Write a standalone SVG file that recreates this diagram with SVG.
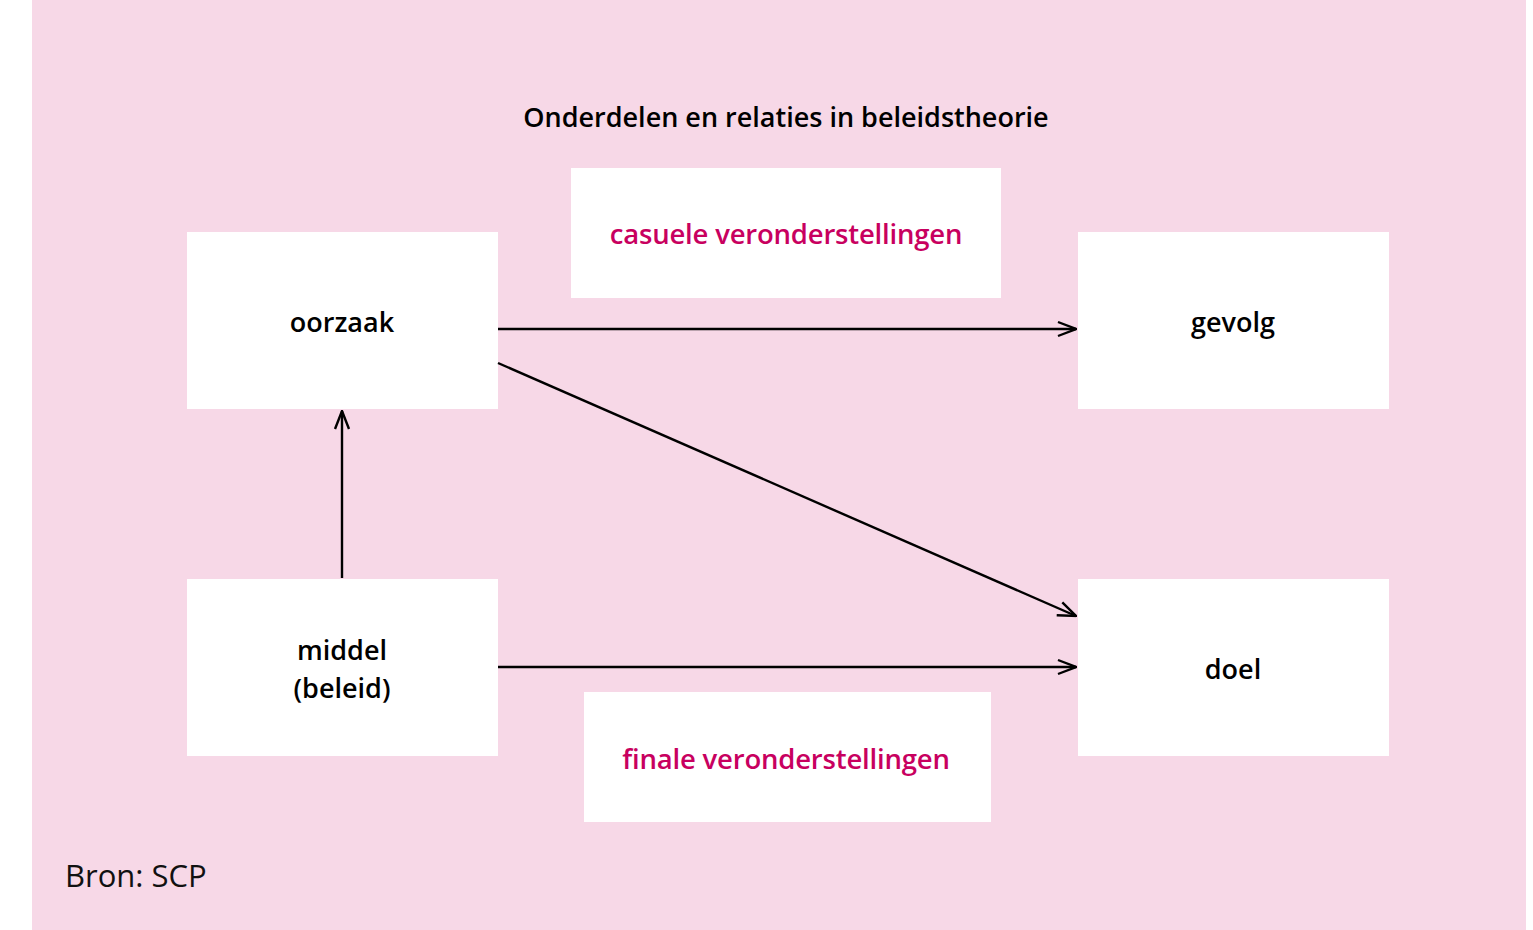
<svg xmlns="http://www.w3.org/2000/svg" width="1533" height="930" viewBox="0 0 1533 930">
<defs>
<style>
.box{fill:#ffffff}
.lbl{font-family:"Open Sans","Noto Sans","Liberation Sans",sans-serif;font-weight:600;font-size:27px;fill:#000;text-anchor:middle}
.mag{font-family:"Open Sans","Noto Sans","Liberation Sans",sans-serif;font-weight:600;font-size:27.5px;fill:#c8005f;text-anchor:middle}
.line{stroke:#000;stroke-width:2.4;fill:none}
</style>
<marker id="arr" viewBox="0 0 20 20" refX="19" refY="10" markerWidth="20" markerHeight="20" markerUnits="userSpaceOnUse" orient="auto">
<path d="M1,3 L19,10 L1,17" fill="none" stroke="#000" stroke-width="2.4"/>
</marker>
</defs>
<rect x="0" y="0" width="1533" height="930" fill="#ffffff"/>
<rect x="32" y="0" width="1494" height="930" fill="#f7d8e7"/>
<text x="786" y="127" class="lbl" font-size="27.5">Onderdelen en relaties in beleidstheorie</text>
<g id="casuele"><rect class="box" x="571" y="168" width="430" height="130"/><text class="mag" x="786" y="244" letter-spacing="-0.2">casuele veronderstellingen</text></g>
<g id="finale"><rect class="box" x="584" y="692" width="407" height="130"/><text class="mag" x="786" y="769" letter-spacing="-0.2">finale veronderstellingen</text></g>
<g id="oorzaak"><rect class="box" x="187" y="232" width="311" height="177"/><text class="lbl" x="342" y="332">oorzaak</text></g>
<g id="gevolg"><rect class="box" x="1078" y="232" width="311" height="177"/><text class="lbl" x="1233" y="332">gevolg</text></g>
<g id="middel"><rect class="box" x="187" y="579" width="311" height="177"/><text class="lbl" x="342" y="660">middel</text><text class="lbl" x="342" y="698">(beleid)</text></g>
<g id="doel"><rect class="box" x="1078" y="579" width="311" height="177"/><text class="lbl" x="1233" y="679">doel</text></g>
<g id="connectors">
<line class="line" x1="498" y1="329" x2="1076" y2="329" marker-end="url(#arr)"/>
<line class="line" x1="498" y1="363" x2="1076" y2="616" marker-end="url(#arr)"/>
<line class="line" x1="498" y1="667" x2="1076" y2="667" marker-end="url(#arr)"/>
<line class="line" x1="342" y1="578" x2="342" y2="411" marker-end="url(#arr)"/>
</g>
<text x="65" y="887" font-family="'Open Sans','Noto Sans','Liberation Sans',sans-serif" font-size="31" fill="#111">Bron: SCP</text>
</svg>
